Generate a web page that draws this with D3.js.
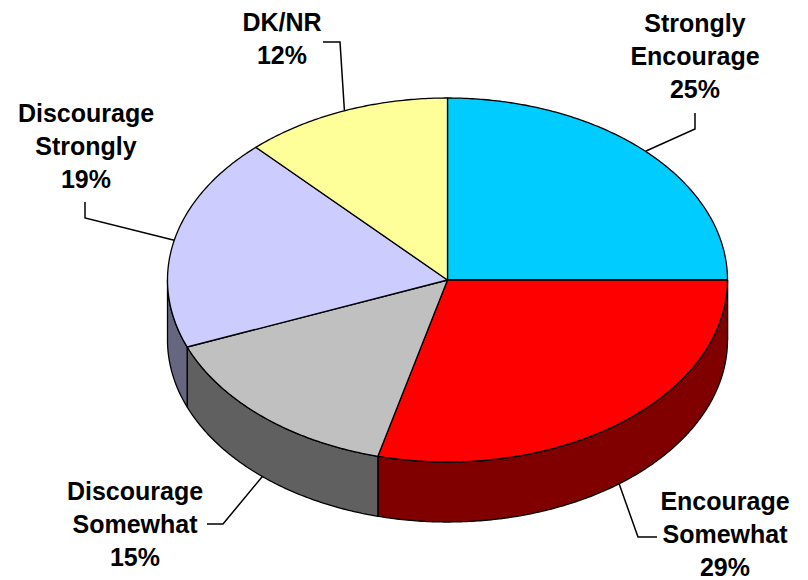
<!DOCTYPE html>
<html>
<head>
<meta charset="utf-8">
<script src="https://cdn.jsdelivr.net/npm/d3@7"></script>
<style>
  html, body { margin: 0; padding: 0; background: #fff; }
  svg { display: block; }
  text { font-family: "Liberation Sans", Arial, Helvetica, sans-serif; font-weight: bold; font-size: 25px; fill: #000; }
</style>
</head>
<body>
<svg id="chart" width="808" height="580"></svg>
<script>
// Survey responses, share of total (%)
const categories = ["Strongly Encourage", "Encourage Somewhat", "Discourage Somewhat", "Discourage Strongly", "DK/NR"];
const values = [25, 29, 15, 19, 12];
const labelLines = [
  ["Strongly", "Encourage", "25%"],
  ["Encourage", "Somewhat", "29%"],
  ["Discourage", "Somewhat", "15%"],
  ["Discourage", "Strongly", "19%"],
  ["DK/NR", "12%"]
];
const topColors = ["#00CCFF", "#FF0000", "#C0C0C0", "#CCCCFF", "#FFFF99"];
const sideColors = ["#006680", "#800000", "#606060", "#666680", "#808050"];

// Geometry of the tilted pie
const cx = 447.5, cy = 280, rx = 280, ry = 182, depth = 60;

// Label placement: text centre x, first baseline, elbow of the leader line,
// start of the leader next to the text, and whether the leader meets the rim's lower edge
const labelLayout = [
  { x: 695, y: 32,  start: [695, 113], elbow: [695, 129], lower: false },
  { x: 725, y: 510, start: [657, 537], elbow: [638, 537], lower: true },
  { x: 135, y: 500, start: [207, 524], elbow: [223, 524], lower: true },
  { x: 86,  y: 122, start: [85, 202],  elbow: [85, 218],  lower: false },
  { x: 282, y: 31,  start: [323, 42],  elbow: [340, 42],  lower: false }
];
const lineHeight = 33;

const svg = d3.select("#chart");

const pie = d3.pie().sort(null).value(d => d).startAngle(0).endAngle(2 * Math.PI);
const arcs = pie(values);

// Point on the ellipse for a parametric angle measured clockwise from 12 o'clock
const pt = (a, dy = 0) => [cx + rx * Math.sin(a), cy - ry * Math.cos(a) + dy];

function arcPoints(a0, a1, dy) {
  const n = Math.max(2, Math.ceil(Math.abs(a1 - a0) / 0.01));
  return d3.range(n + 1).map(i => pt(a0 + (a1 - a0) * i / n, dy));
}

const line = d3.line();

// Visible side walls: the front half of the rim (from 3 o'clock round to 9 o'clock)
const sideGroup = svg.append("g");
arcs.forEach((d, i) => {
  const b0 = Math.max(d.startAngle, Math.PI / 2);
  const b1 = Math.min(d.endAngle, 3 * Math.PI / 2);
  if (b1 <= b0) return;
  const pts = arcPoints(b0, b1, 0).concat(arcPoints(b1, b0, depth));
  sideGroup.append("path")
    .attr("d", line(pts) + "Z")
    .attr("fill", sideColors[i])
    .attr("stroke", "#000")
    .attr("stroke-width", 1.3)
    .attr("stroke-linejoin", "round");
});

// Top faces
const topGroup = svg.append("g");
arcs.forEach((d, i) => {
  const pts = [[cx, cy]].concat(arcPoints(d.startAngle, d.endAngle, 0));
  topGroup.append("path")
    .attr("d", line(pts) + "Z")
    .attr("fill", topColors[i])
    .attr("stroke", "#000")
    .attr("stroke-width", 1.3)
    .attr("stroke-linejoin", "round");
});

// Labels and leader lines
const labelGroup = svg.append("g");
arcs.forEach((d, i) => {
  const L = labelLayout[i];
  const mid = (d.startAngle + d.endAngle) / 2;
  const anchor = pt(mid, L.lower ? depth : 0);
  labelGroup.append("path")
    .attr("d", line([L.start, L.elbow, anchor]))
    .attr("fill", "none")
    .attr("stroke", "#000")
    .attr("stroke-width", 1.5);

  const t = labelGroup.append("text")
    .attr("text-anchor", "middle");
  labelLines[i].forEach((s, k) => {
    t.append("tspan")
      .attr("x", L.x)
      .attr("y", L.y + k * lineHeight)
      .text(s);
  });
});
</script>
</body>
</html>
